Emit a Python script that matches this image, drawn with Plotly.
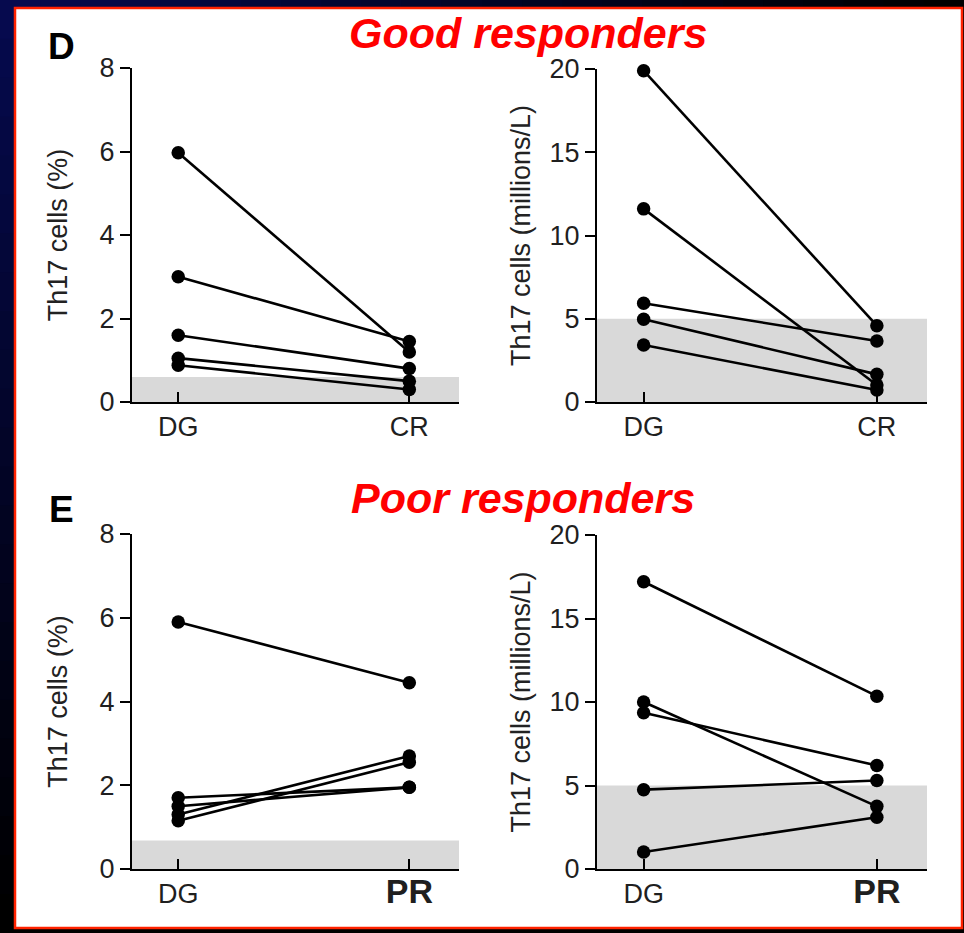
import plotly.graph_objects as go

# ---- data -------------------------------------------------------------
good_pct_dg = [5.97, 3.0, 1.6, 1.05, 0.88]
good_pct_cr = [1.2, 1.45, 0.8, 0.5, 0.3]
good_abs_dg = [19.9, 11.6, 5.93, 4.97, 3.42]
good_abs_cr = [4.58, 1.02, 3.66, 1.66, 0.72]

poor_pct_dg = [5.9, 1.7, 1.5, 1.3, 1.15]
poor_pct_pr = [4.45, 1.95, 1.95, 2.7, 2.55]
poor_abs_dg = [17.2, 10.0, 9.35, 4.75, 1.02]
poor_abs_pr = [10.35, 3.75, 6.2, 5.3, 3.1]

# normal-range bands (upper limits)
band_pct_good = 0.6
band_pct_poor = 0.68
band_abs = 5.0

good_labels = ["DG", "CR"]
poor_labels = ["DG", '<span style="font-size:34px"><b>PR</b></span>']
pct_ticks = [0, 2, 4, 6, 8]
abs_ticks = [0, 5, 10, 15, 20]
pct_title = "Th17 cells (%)"
abs_title = "Th17 cells (millions/L)"

# ---- layout helpers ---------------------------------------------------
W, H = 964, 933
FONT = "Liberation Sans, Arial, Helvetica, sans-serif"


def fx(px):
    return px / W


def fy(py):
    return 1 - py / H


fig = go.Figure()

panels = [
    # (xaxis id, yaxis id, pre, post, x labels, y ticks, y title, band,
    #  x px domain, y px domain, title standoff)
    ("x", "y", good_pct_dg, good_pct_cr, good_labels, pct_ticks, pct_title, band_pct_good, (132, 459), (68, 402), 24),
    ("x2", "y2", good_abs_dg, good_abs_cr, good_labels, abs_ticks, abs_title, band_abs, (597, 927), (69, 402), 11),
    ("x3", "y3", poor_pct_dg, poor_pct_pr, poor_labels, pct_ticks, pct_title, band_pct_poor, (132, 459), (534, 869), 24),
    ("x4", "y4", poor_abs_dg, poor_abs_pr, poor_labels, abs_ticks, abs_title, band_abs, (597, 927), (535, 869), 11),
]

shapes = []

# slide background: dark navy fading to black, white card with red frame
shapes.append(dict(type="rect", xref="paper", yref="paper", x0=0, x1=1, y0=0, y1=1,
                   fillcolor="#000000", line=dict(width=0), layer="below"))
nseg = 24
for i in range(nseg):
    t = i / (nseg - 1)
    col = "rgb({},{},{})".format(int(6 * (1 - t)), int(10 * (1 - t)), int(78 * (1 - t)))
    # top strip, left to right
    shapes.append(dict(type="rect", xref="paper", yref="paper",
                       x0=fx(W * i / nseg), x1=fx(W * (i + 1) / nseg) + 0.001,
                       y0=fy(9), y1=1, fillcolor=col, line=dict(width=0), layer="below"))
    # left strip, top to bottom
    shapes.append(dict(type="rect", xref="paper", yref="paper",
                       x0=0, x1=fx(16), y0=fy(H * (i + 1) / nseg) - 0.001, y1=fy(H * i / nseg),
                       fillcolor=col, line=dict(width=0), layer="below"))
shapes.append(dict(type="rect", xref="paper", yref="paper",
                   x0=fx(15), x1=fx(962), y0=fy(928), y1=fy(8),
                   fillcolor="#ffffff", line=dict(color="#ff2200", width=2.5), layer="below"))

layout_axes = {}
for (xa, ya, pre, post, xlabels, yticks, ytitle, band, xdom, ydom, standoff) in panels:
    for j in range(len(pre)):
        fig.add_trace(go.Scatter(
            x=[0, 1], y=[pre[j], post[j]], xaxis=xa, yaxis=ya,
            mode="lines+markers", cliponaxis=False, showlegend=False,
            line=dict(color="#000000", width=2.6),
            marker=dict(color="#000000", size=13.5),
            hoverinfo="y",
        ))
    shapes.append(dict(type="rect", xref=xa + " domain", yref=ya,
                       x0=0, x1=1, y0=0, y1=band,
                       fillcolor="#d9d9d9", line=dict(width=0), layer="below"))
    xkey = "xaxis" if xa == "x" else "xaxis" + xa[1:]
    ykey = "yaxis" if ya == "y" else "yaxis" + ya[1:]
    layout_axes[xkey] = dict(
        domain=[fx(xdom[0]), fx(xdom[1])], anchor=ya, automargin=False,
        range=[-0.2, 1.215], tickvals=[0, 1], ticktext=xlabels,
        ticks="inside", ticklen=10, tickwidth=2, tickcolor="#000000",
        showline=True, linecolor="#000000", linewidth=2,
        showgrid=False, zeroline=False, ticklabelstandoff=0,
        tickfont=dict(family=FONT, size=27, color="#1f1f1f"),
    )
    layout_axes[ykey] = dict(
        domain=[fy(ydom[1]), fy(ydom[0])], anchor=xa, automargin=False,
        range=[0, yticks[-1]], tickvals=yticks,
        ticks="outside", ticklen=10, tickwidth=2, tickcolor="#000000",
        showline=True, linecolor="#000000", linewidth=2,
        showgrid=False, zeroline=False,
        tickfont=dict(family=FONT, size=27, color="#1f1f1f"),
        title=dict(text=ytitle, font=dict(family=FONT, size=27, color="#222222"),
                   standoff=standoff),
    )

annotations = [
    dict(text="Good responders", x=fx(528), y=fy(33), xref="paper", yref="paper",
         xanchor="center", yanchor="middle", showarrow=False,
         font=dict(family=FONT, size=43, color="#ff0000", weight="bold", style="italic")),
    dict(text="Poor responders", x=fx(523), y=fy(498), xref="paper", yref="paper",
         xanchor="center", yanchor="middle", showarrow=False,
         font=dict(family=FONT, size=43, color="#ff0000", weight="bold", style="italic")),
    dict(text="<b>D</b>", x=fx(62), y=fy(46), xref="paper", yref="paper",
         xanchor="center", yanchor="middle", showarrow=False,
         font=dict(family=FONT, size=37, color="#000000")),
    dict(text="<b>E</b>", x=fx(62), y=fy(509), xref="paper", yref="paper",
         xanchor="center", yanchor="middle", showarrow=False,
         font=dict(family=FONT, size=37, color="#000000")),
]

fig.update_layout(
    width=W, height=H,
    margin=dict(l=0, r=0, t=0, b=0, autoexpand=False),
    paper_bgcolor="#000000",
    plot_bgcolor="rgba(0,0,0,0)",
    shapes=shapes,
    annotations=annotations,
    font=dict(family=FONT),
    **layout_axes,
)

fig.write_html("out.html")
